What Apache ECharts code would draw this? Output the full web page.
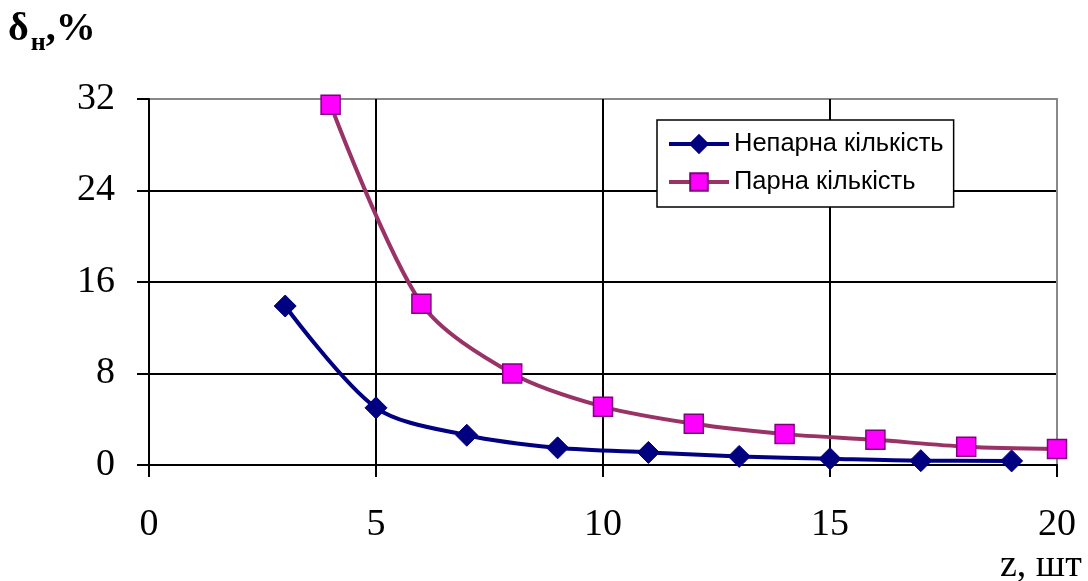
<!DOCTYPE html>
<html>
<head>
<meta charset="utf-8">
<script src="https://cdn.jsdelivr.net/npm/echarts@6/dist/echarts.min.js"></script>
<style>
  html, body { margin: 0; padding: 0; background: #fff; }
  #main { width: 1088px; height: 581px; }
</style>
</head>
<body>
<div id="main"></div>
<script>
// непарна кількість
var oddZ = [3, 5, 7, 9, 11, 13, 15, 17, 19];
var oddDelta = [13.9, 5.0, 2.6, 1.5, 1.1, 0.75, 0.55, 0.38, 0.36];
// парна кількість
var evenZ = [4, 6, 8, 10, 12, 14, 16, 18, 20];
var evenDelta = [31.5, 14.1, 8.0, 5.1, 3.6, 2.7, 2.2, 1.6, 1.4];

var seriesNames = ['Непарна кількість', 'Парна кількість'];

function pairs(xs, ys) {
    return xs.map(function (x, i) { return [x, ys[i]]; });
}

var chart = echarts.init(document.getElementById('main'));
var serif = '"Liberation Serif", "Times New Roman", serif';

var option = {
    animation: false,
    backgroundColor: '#fff',
    grid: {
        left: 149,
        right: 31,
        top: 99,
        bottom: 116,
        show: true,
        borderColor: '#888',
        borderWidth: 2
    },
    legend: {
        data: seriesNames,
        orient: 'vertical',
        left: 657,
        top: 120,
        padding: [11, 10, 12, 10],
        itemGap: 12,
        itemWidth: 60,
        itemHeight: 22,
        borderColor: '#000',
        borderWidth: 1.5,
        backgroundColor: '#fff',
        lineStyle: { width: 4 },
        textStyle: {
            fontFamily: '"Liberation Sans", Arial, sans-serif',
            fontSize: 25.5,
            color: '#000'
        }
    },
    xAxis: {
        type: 'value',
        min: 0,
        max: 20,
        interval: 5,
        axisLine: { lineStyle: { color: '#000', width: 2 } },
        axisTick: { show: true, length: 12, inside: false, lineStyle: { color: '#000', width: 2 } },
        axisLabel: {
            margin: 41,
            fontFamily: serif,
            fontSize: 38,
            color: '#000'
        },
        splitLine: {
            show: true,
            lineStyle: { color: ['#000', '#000', '#000', '#000', '#888'], width: 2 }
        }
    },
    yAxis: {
        type: 'value',
        min: 0,
        max: 32,
        interval: 8,
        axisLine: { lineStyle: { color: '#000', width: 2 } },
        axisTick: { show: true, length: 12, inside: false, lineStyle: { color: '#000', width: 2 } },
        axisLabel: {
            margin: 34,
            fontFamily: serif,
            fontSize: 38,
            color: '#000'
        },
        splitLine: {
            show: true,
            lineStyle: { color: ['#000', '#000', '#000', '#000', '#888'], width: 2 }
        }
    },
    graphic: [
        {
            type: 'text',
            left: 8,
            top: 10,
            style: {
                text: '{a|δ}{b|н}{a|,%}',
                rich: {
                    a: { fontFamily: serif, fontSize: 40, fontWeight: 'bold', fill: '#000', verticalAlign: 'bottom' },
                    b: { fontFamily: serif, fontSize: 26, fontWeight: 'bold', fill: '#000', verticalAlign: 'bottom', padding: [0, 0, -6, 2] }
                }
            }
        },
        {
            type: 'text',
            left: 1000,
            top: 547,
            style: {
                text: 'z, шт',
                fontFamily: serif,
                fontSize: 38,
                fill: '#000'
            }
        }
    ],
    series: [
        {
            name: seriesNames[0],
            type: 'line',
            data: pairs(oddZ, oddDelta),
            smooth: 0.3,
            symbol: 'diamond',
            symbolSize: 22,
            lineStyle: { color: '#000080', width: 4 },
            itemStyle: { color: '#000080', borderColor: '#000080', borderWidth: 1 },
            z: 3
        },
        {
            name: seriesNames[1],
            type: 'line',
            data: pairs(evenZ, evenDelta),
            smooth: 0.3,
            symbol: 'rect',
            symbolSize: 19,
            lineStyle: { color: '#993366', width: 4 },
            itemStyle: { color: '#ff00ff', borderColor: '#800080', borderWidth: 1.5 },
            z: 4
        }
    ]
};

chart.setOption(option);
</script>
</body>
</html>
